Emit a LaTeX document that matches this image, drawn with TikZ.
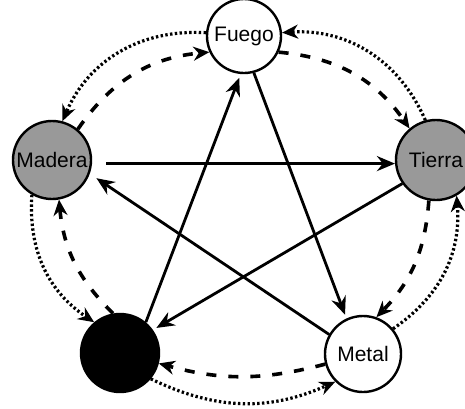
\documentclass[tikz,border=0pt]{standalone}
\usepackage{fontspec}
\setmainfont{Liberation Sans}
\usetikzlibrary{arrows.meta}

\begin{document}
\begin{tikzpicture}[
  x=0.5pt, y=-0.5pt,
  elem/.style={
    circle, draw, line width=1.2pt, inner sep=0pt,
    font=\fontsize{10.5}{12}\selectfont
  },
  arrow/.style={-{Stealth[length=9pt,width=7.5pt]}, line width=1.4pt},
  dotarc/.style={-{Stealth[length=8pt,width=7pt]}, line width=1.6pt, dash pattern=on 1.2pt off 1.2pt},
  dasharc/.style={-{Stealth[length=8pt,width=7pt]}, line width=1.8pt, dash pattern=on 5pt off 6pt}
]
\useasboundingbox (0,0) rectangle (465,408);

% --- Five elements ---
\node[elem, minimum size=37pt, fill=white] (fuego) at (244,36) {Fuego};
\node[elem, minimum size=39pt, fill=black!40] (madera) at (52,160) {Madera};
\node[elem, minimum size=40pt, fill=black!40] (tierra) at (436,160) {Tierra};
\node[elem, minimum size=39pt, fill=black] (agua) at (120,353) {};
\node[elem, minimum size=38pt, fill=white] (metal) at (363,354) {Metal};

% --- Star (solid arrows) ---
\draw[arrow, shorten <=7pt] (madera.-5) -- (tierra.185);
\draw[arrow, shorten >=2pt] (tierra.-145) -- (agua.35);
\draw[arrow, shorten >=2pt] (agua.50) -- (fuego.-95);
\draw[arrow, shorten >=2pt] (fuego.-75) -- (metal.115);
\draw[arrow, shorten >=4pt] (metal.150) -- (madera.-20);

% --- Outer ring, dotted ---
\draw[dotarc] (fuego.175) to[bend right=35] (madera.75);
\draw[dotarc] (madera.-120) to[bend right=30] (agua.130);
\draw[dotarc] (agua.-40) to[bend right=25] (metal.-135);
\draw[dotarc] (metal.40) to[bend right=30] (tierra.-60);
\draw[dotarc] (tierra.105) to[bend right=35] (fuego.5);

% --- Inner ring, dashed ---
\draw[dasharc] (madera.50) to[bend left=25] (fuego.205);
\draw[dasharc] (fuego.-25) to[bend left=25] (tierra.130);
\draw[dasharc] (tierra.-100) to[bend left=20] (metal.70);
\draw[dasharc] (metal.-165) to[bend left=15] (agua.-15);
\draw[dasharc] (agua.100) to[bend left=20] (madera.-80);

\end{tikzpicture}
\end{document}
